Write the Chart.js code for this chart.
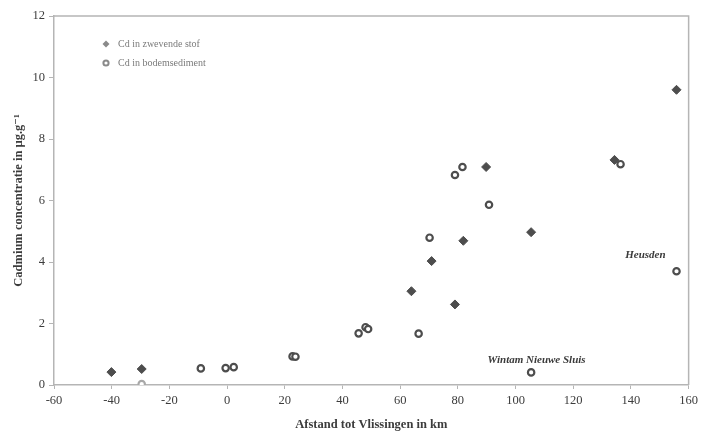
<!DOCTYPE html>
<html>
<head>
<meta charset="utf-8">
<script src="https://cdn.jsdelivr.net/npm/chart.js@4/dist/chart.umd.min.js"></script>
<style>
  html, body { margin: 0; padding: 0; background: #fff; }
  #wrap { width: 702px; height: 432px; }
</style>
</head>
<body>
<div id="wrap"><canvas id="chart"></canvas></div>
<script>
// distance from Vlissingen (km) and Cd concentration (ug/g)
var stofX = [-40.1, -29.6, 63.9, 70.9, 79.0, 81.9, 89.8, 105.4, 134.3, 155.8]
var stofY = [0.42, 0.52, 3.05, 4.03, 2.62, 4.69, 7.09, 4.97, 7.32, 9.6]

var sedX = [-29.6, -9.1, -0.5, 2.3, 22.7, 23.7, 45.6, 48.0, 48.9, 66.4, 70.2, 79.0, 81.6, 90.8, 105.4, 136.4, 155.8]
var sedY = [0.03, 0.54, 0.55, 0.58, 0.93, 0.92, 1.68, 1.88, 1.82, 1.67, 4.79, 6.83, 7.09, 5.86, 0.41, 7.18, 3.70]

var seriesNames = ["Cd in zwevende stof", "Cd in bodemsediment"]
var xTicks = [-60, -40, -20, 0, 20, 40, 60, 80, 100, 120, 140, 160]
var yTicks = [0, 2, 4, 6, 8, 10, 12]

// place names written next to their points
var placeNames = ["Wintam Nieuwe Sluis", "Heusden"]
var placeX = [107.3, 145]
var placeY = [0.8, 4.23]

function pairs(xs, ys) {
    var out = []
    for (var i = 0; i < xs.length; i++) out.push({x: xs[i], y: ys[i]})
    return out
}

var dark = "#4d4d4d"
var serif = "'Liberation Serif', 'DejaVu Serif', serif"

// box around the plot, legend in the corner and the place names
var extras = {
    id: "extras",
    afterDraw: function(chart) {
        var ctx = chart.ctx
        var a = chart.chartArea
        var sx = chart.scales.x, sy = chart.scales.y
        ctx.save()
        ctx.strokeStyle = "#b5b5b5"
        ctx.lineWidth = 1.5
        ctx.beginPath()
        ctx.moveTo(a.left, a.top)
        ctx.lineTo(a.right, a.top)
        ctx.lineTo(a.right, a.bottom)
        ctx.stroke()

        // legend
        var lx = a.left + 52, ly = a.top + 28
        ctx.fillStyle = "#8a8a8a"
        ctx.strokeStyle = "#8a8a8a"
        ctx.beginPath()
        ctx.moveTo(lx, ly - 3.5); ctx.lineTo(lx + 3.5, ly); ctx.lineTo(lx, ly + 3.5); ctx.lineTo(lx - 3.5, ly); ctx.closePath()
        ctx.fill()
        ctx.lineWidth = 2
        ctx.fillStyle = "#fff"
        ctx.beginPath()
        ctx.arc(lx, ly + 19, 2.6, 0, Math.PI * 2)
        ctx.fill(); ctx.stroke()
        ctx.fillStyle = "#7a7a7a"
        ctx.font = "10px " + serif
        ctx.textBaseline = "middle"
        ctx.textAlign = "left"
        ctx.fillText(seriesNames[0], lx + 12, ly)
        ctx.fillText(seriesNames[1], lx + 12, ly + 19)

        // place names
        ctx.fillStyle = "#3a3a3a"
        ctx.font = "italic bold 11px " + serif
        ctx.textAlign = "center"
        for (var i = 0; i < placeNames.length; i++) {
            ctx.fillText(placeNames[i], sx.getPixelForValue(placeX[i]), sy.getPixelForValue(placeY[i]))
        }
        ctx.restore()
    }
}

new Chart(document.getElementById("chart"), {
    type: "scatter",
    data: {
        datasets: [{
            label: seriesNames[0],
            data: pairs(stofX, stofY),
            pointStyle: "rectRot",
            pointRadius: 4.5,
            pointBackgroundColor: dark,
            pointBorderColor: dark,
            pointBorderWidth: 1
        }, {
            label: seriesNames[1],
            data: pairs(sedX, sedY),
            pointStyle: "circle",
            pointRadius: 3.2,
            pointBackgroundColor: "#fff",
            // the sample at -30 km is printed lighter
            pointBorderColor: function(c) { return c.dataIndex === 0 ? "#a8a8a8" : dark },
            pointBorderWidth: 2.2
        }]
    },
    plugins: [extras],
    options: {
        responsive: true,
        maintainAspectRatio: false,
        animation: false,
        layout: { padding: { left: 0, right: 11, top: 16, bottom: 0 } },
        plugins: { legend: { display: false }, tooltip: { enabled: false } },
        scales: {
            x: {
                type: "linear",
                min: -60, max: 160,
                afterBuildTicks: function(s) { s.ticks = xTicks.map(function(v) { return {value: v} }) },
                afterFit: function(s) { s.height = 47 },
                grid: { drawOnChartArea: false, drawTicks: true, tickLength: 4, tickColor: "#b5b5b5" },
                border: { color: "#b5b5b5", width: 1.5 },
                ticks: { color: "#3c3c3c", font: { family: serif, size: 12.5 }, padding: 4, maxRotation: 0 },
                title: {
                    display: true,
                    text: "Afstand tot Vlissingen in km",
                    color: "#3c3c3c",
                    font: { family: serif, size: 12.5, weight: "bold" },
                    padding: { top: 0, bottom: 0 }
                }
            },
            y: {
                min: 0, max: 12,
                afterBuildTicks: function(s) { s.ticks = yTicks.map(function(v) { return {value: v} }) },
                afterFit: function(s) { s.width = 54 },
                grid: { drawOnChartArea: false, drawTicks: true, tickLength: 5, tickColor: "#b5b5b5" },
                border: { color: "#b5b5b5", width: 1.5 },
                ticks: { color: "#3c3c3c", font: { family: serif, size: 12.5 }, padding: 4 },
                title: {
                    display: true,
                    text: "Cadmium concentratie in µg.g⁻¹",
                    color: "#3c3c3c",
                    font: { family: serif, size: 12.5, weight: "bold" },
                    padding: { top: 11, bottom: 0 }
                }
            }
        }
    }
})
</script>
</body>
</html>
